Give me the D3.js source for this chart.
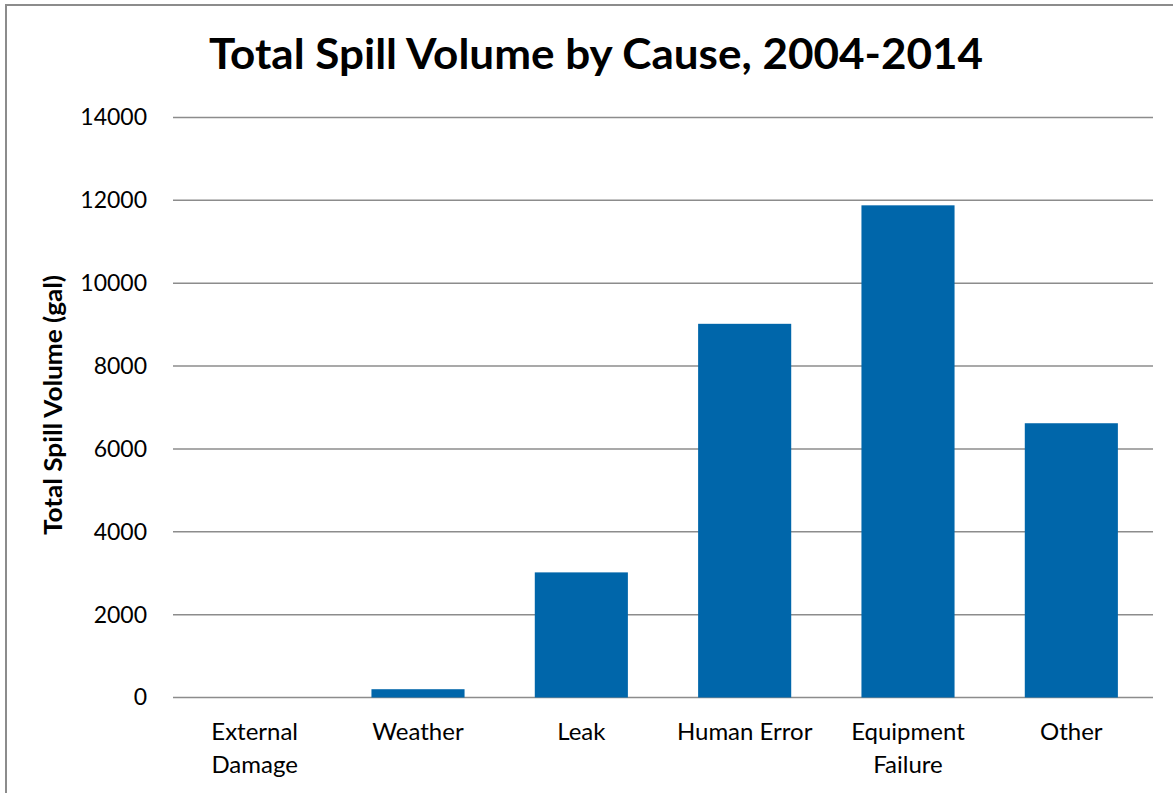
<!DOCTYPE html>
<html><head><meta charset="utf-8">
<script src="https://cdn.jsdelivr.net/npm/d3@7"></script>
<style>body{margin:0;background:#fff;} svg{display:block;}</style>
</head><body>
<script>
const categories = [["External","Damage"],["Weather"],["Leak"],["Human Error"],["Equipment","Failure"],["Other"]];
const values = [0, 200, 3020, 9020, 11880, 6620];
const yTicks = [0, 2000, 4000, 6000, 8000, 10000, 12000, 14000];
const title = "Total Spill Volume by Cause, 2004-2014";
const yLabel = "Total Spill Volume (gal)";

(function () {
const W = 1173, H = 793;
const svg = d3.select("body").append("svg").attr("width", W).attr("height", H);
svg.append("rect").attr("x", 6).attr("y", 5).attr("width", W + 10).attr("height", H + 10)
  .attr("fill", "#fff").attr("stroke", "#8c8c8c").attr("stroke-width", 2);

const pLeft = 173, pRight = 1153, pTop = 117.5, pBottom = 697.5;
const keys = categories.map(c => c.join(" "));
const x = d3.scaleBand().domain(keys).range([pLeft, pRight]).paddingInner(0.43).paddingOuter(0.215);
const y = d3.scaleLinear().domain([0, 14000]).range([pBottom, pTop]);

const font = "Lato, 'Open Sans', sans-serif";

svg.append("g").selectAll("line").data(yTicks).join("line")
  .attr("x1", pLeft).attr("x2", pRight)
  .attr("y1", d => y(d)).attr("y2", d => y(d))
  .attr("stroke", "#8c8c8c").attr("stroke-width", 1.5);

svg.append("g").selectAll("rect").data(values).join("rect")
  .attr("x", (d, i) => x(keys[i])).attr("width", x.bandwidth())
  .attr("y", d => y(d)).attr("height", d => y(0) - y(d))
  .attr("fill", "#0066AA");

const yAxis = d3.axisLeft(y).tickValues(yTicks).tickSize(0).tickPadding(26).tickFormat(d3.format("d"));
const ga = svg.append("g").attr("transform", `translate(${pLeft},0)`).call(yAxis);
ga.select(".domain").remove();
ga.selectAll("text").attr("font-family", font).attr("font-size", 23).attr("fill", "#000");

const gx = svg.append("g");
categories.forEach((c, i) => {
  const cx = x(keys[i]) + x.bandwidth() / 2;
  const t = gx.append("text").attr("x", cx).attr("y", 740)
    .attr("text-anchor", "middle").attr("font-family", font).attr("font-size", 24).attr("fill", "#000");
  c.forEach((line, j) => t.append("tspan").attr("x", cx).attr("dy", j === 0 ? 0 : 33).text(line));
});

svg.append("text").attr("x", 596).attr("y", 69).attr("text-anchor", "middle")
  .attr("font-family", font).attr("font-weight", "bold").attr("font-size", 42)
  .attr("textLength", 774).attr("lengthAdjust", "spacingAndGlyphs")
  .attr("fill", "#000").text(title);

svg.append("text").attr("transform", "translate(62,405) rotate(-90)").attr("text-anchor", "middle")
  .attr("font-family", font).attr("font-weight", "bold").attr("font-size", 25)
  .attr("textLength", 260).attr("lengthAdjust", "spacingAndGlyphs")
  .attr("fill", "#000").text(yLabel);
})();
</script>
</body></html>
